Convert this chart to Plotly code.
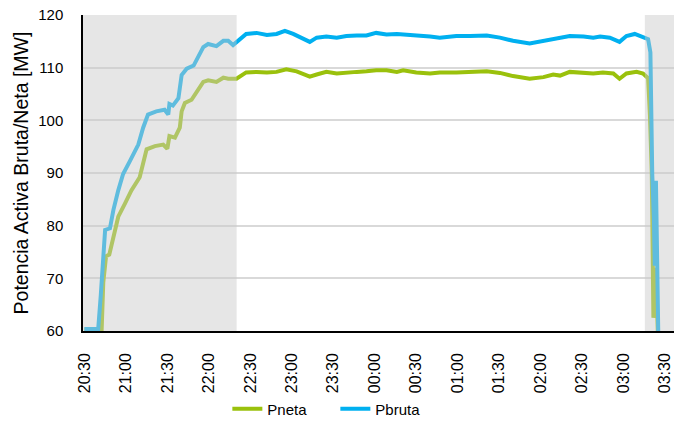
import plotly.graph_objects as go
from datetime import datetime, timedelta

# ---- data ----
pbruta_time = ["20:30:00","20:40:00","20:41:50","20:43:40","20:45:00","20:48:30","20:51:00","20:54:30",
               "20:58:00","21:03:00","21:09:00","21:12:30","21:16:00","21:22:00","21:28:00","21:30:40",
               "21:31:30","21:34:00","21:38:00","21:40:20","21:44:00","21:49:00","21:52:20","21:56:00",
               "21:59:30","22:05:30","22:10:30","22:14:00","22:17:30","22:20:00","22:27:00","22:34:30",
               "22:42:00","22:49:00","22:55:00","23:01:00","23:07:00","23:13:00","23:18:00","23:25:00",
               "23:32:30","23:39:30","23:47:00","23:54:00","00:01:00","00:08:30","00:16:00","00:23:00",
               "00:30:00","00:40:00","00:47:00","00:59:00","01:09:00","01:21:00","01:30:30","01:40:00",
               "01:52:00","02:02:00","02:11:30","02:21:00","02:31:00","02:38:00","02:43:00","02:50:00",
               "02:57:00","03:02:00","03:08:00","03:14:00","03:17:40","03:19:20","03:20:00","03:20:40",
               "03:21:50","03:22:30","03:23:20","03:23:50","03:25:00"]
pbruta_mw = [60.4,60.4,66.7,74.2,79.2,79.5,83.0,86.7,
             89.8,92.3,95.4,98.6,101.1,101.7,102.0,101.1,
             103.1,102.8,104.2,108.6,109.8,110.4,112.0,113.9,
             114.5,114.1,115.1,115.1,114.3,114.8,116.4,116.6,
             116.2,116.4,117.0,116.4,115.7,114.9,115.7,115.9,
             115.7,116.0,116.1,116.1,116.6,116.3,116.4,116.3,
             116.1,115.9,115.7,116.0,116.0,116.1,115.7,115.1,
             114.6,115.1,115.7,116.0,115.9,115.7,115.9,115.7,
             114.9,116.0,116.4,115.9,115.4,112.9,100.4,89.8,
             81.7,72.4,88.5,75.5,60.0]

pneta_time = ["20:30:00","20:42:30","20:43:40","20:45:40","20:48:00","20:51:00","20:54:30","20:59:20",
              "21:04:00","21:10:00","21:12:30","21:15:00","21:21:00","21:27:00","21:30:00","21:31:30",
              "21:35:30","21:39:00","21:40:20","21:42:40","21:47:30","21:52:20","21:56:00","21:59:30",
              "22:05:30","22:10:30","22:14:00","22:20:00","22:27:00","22:34:30","22:42:00","22:49:00",
              "22:56:00","23:03:30","23:08:00","23:13:00","23:18:00","23:25:00","23:32:30","23:39:30",
              "23:47:00","23:54:00","00:01:00","00:08:30","00:16:00","00:20:30","00:30:00","00:40:00",
              "00:47:00","00:59:00","01:09:00","01:21:00","01:30:30","01:40:00","01:52:00","02:02:00",
              "02:09:00","02:14:00","02:21:00","02:31:00","02:38:00","02:45:00","02:52:30","02:57:00",
              "03:02:00","03:09:20","03:14:00","03:17:40","03:19:00","03:20:20","03:21:00","03:21:30",
              "03:22:10","03:23:10","03:24:40"]
pneta_mw = [60.3,60.3,69.2,74.2,74.5,78.0,81.7,84.2,
            86.7,89.2,91.7,94.5,95.1,95.4,94.6,97.0,
            96.7,98.6,101.7,103.3,103.9,105.7,107.3,107.6,
            107.3,108.1,107.9,107.9,109.1,109.2,109.1,109.2,
            109.7,109.3,108.9,108.3,108.7,109.2,108.9,109.1,
            109.2,109.3,109.5,109.5,109.2,109.5,109.1,108.9,
            109.1,109.1,109.2,109.3,109.0,108.4,107.9,108.2,
            108.7,108.5,109.2,109.1,108.9,109.1,108.9,107.9,
            108.9,109.2,108.9,108.0,101.0,90.0,80.0,62.5,
            68.0,72.0,60.0]

# shaded (transition) periods
shade_start = ["20:29:00", "03:15:20"]
shade_end = ["22:20:06", "03:36:24"]

x_range = ["20:29:00", "03:36:24"]
y_range = [60, 120]
tick_times = ["20:30","21:00","21:30","22:00","22:30","23:00","23:30","00:00",
              "00:30","01:00","01:30","02:00","02:30","03:00","03:30"]

BASE = datetime(2024, 1, 1)


def to_dt(s):
    parts = [int(p) for p in s.split(":")]
    while len(parts) < 3:
        parts.append(0)
    h, m, sec = parts
    d = BASE + timedelta(hours=h, minutes=m, seconds=sec)
    if h < 12:
        d += timedelta(days=1)
    return d


fig = go.Figure()

fig.add_trace(go.Scatter(x=[to_dt(t) for t in pneta_time], y=pneta_mw, mode="lines",
                         name="Pneta", line=dict(color="#9AC10C", width=4)))
fig.add_trace(go.Scatter(x=[to_dt(t) for t in pbruta_time], y=pbruta_mw, mode="lines",
                         name="Pbruta", line=dict(color="#00B0F0", width=4)))

# shaded bands drawn above the lines (semi-transparent grey)
for s, e in zip(shade_start, shade_end):
    xs, xe = to_dt(s), to_dt(e)
    fig.add_trace(go.Scatter(x=[xs, xe, xe, xs, xs],
                             y=[y_range[0], y_range[0], y_range[1], y_range[1], y_range[0]],
                             mode="lines", fill="toself", fillcolor="rgba(202,202,202,0.47)",
                             line=dict(width=0), showlegend=False, hoverinfo="skip"))

font_family = "Liberation Sans, Arial, sans-serif"

fig.update_layout(
    width=677, height=428,
    margin=dict(l=83, r=3, t=15, b=92),
    paper_bgcolor="white", plot_bgcolor="white",
    font=dict(family=font_family, color="black", size=15),
    showlegend=True,
    legend=dict(orientation="h", x=0.427, xanchor="center", y=-0.247, yanchor="middle",
                font=dict(size=15, family=font_family), bgcolor="rgba(0,0,0,0)",
                itemwidth=30, tracegroupgap=0, entrywidth=63),
    xaxis=dict(
        range=[to_dt(x_range[0]), to_dt(x_range[1])],
        tickmode="array",
        tickvals=[to_dt(t) for t in tick_times],
        ticktext=tick_times,
        tickangle=-90,
        tickfont=dict(size=16),
        showgrid=False,
        showline=True, linecolor="black", linewidth=1.5,
        ticks="", zeroline=False,
        ticklabelstandoff=14,
        automargin=False,
        layer="above traces",
    ),
    yaxis=dict(
        range=y_range,
        tickvals=[60, 70, 80, 90, 100, 110, 120],
        tickfont=dict(size=15),
        showgrid=True, gridcolor="#D9D9D9", gridwidth=1.5,
        showline=True, linecolor="black", linewidth=1.5,
        ticks="", zeroline=False,
        ticklabelstandoff=15,
        automargin=False,
        title=dict(text="Potencia Activa Bruta/Neta [MW]", font=dict(size=19.5), standoff=4),
        layer="above traces",
    ),
)

fig.write_html("out.html", config={"displayModeBar": False},
               post_script="document.body.style.margin='0px';")
